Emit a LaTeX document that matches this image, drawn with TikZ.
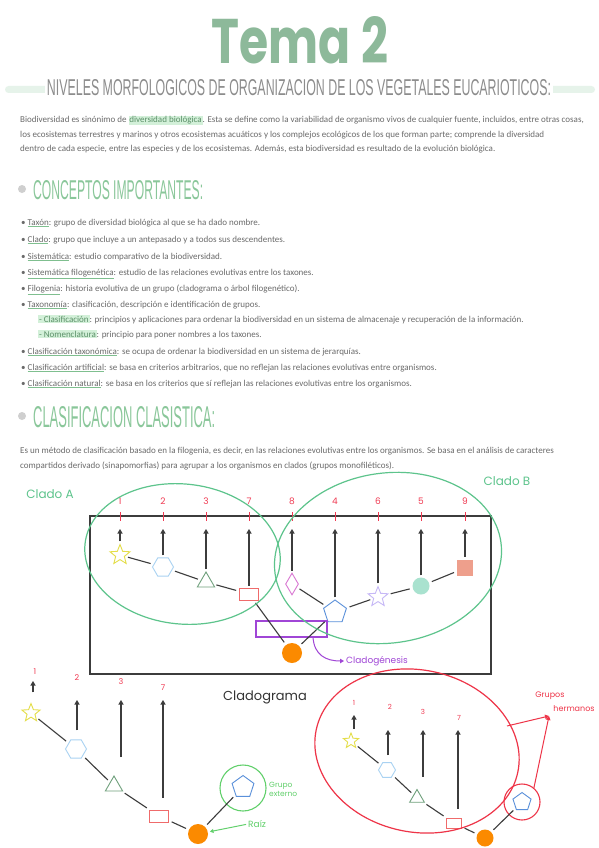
\documentclass[tikz,border=0pt]{standalone}
\usepackage{fontspec}
\setmainfont{Carlito}
\newfontfamily\headf{Liberation Sans}
\newfontfamily\titlef{Poppins}
\newfontfamily\handf{Poppins}
\usetikzlibrary{shapes.geometric,arrows.meta,calc}
\definecolor{sage}{HTML}{8DB99A}
\definecolor{headgreen}{HTML}{8AC79A}
\definecolor{hl}{HTML}{D3F0D9}
\definecolor{hltxt}{HTML}{5B9068}
\definecolor{barc}{HTML}{E6F3EA}
\definecolor{txt}{HTML}{6A6A6A}
\definecolor{subgray}{HTML}{8C8C8C}
\definecolor{bulgray}{HTML}{CFCFCF}
\definecolor{ulgreen}{HTML}{7FBF8F}
\definecolor{numred}{HTML}{F03A52}
\definecolor{ellgreen}{HTML}{5DC48C}
\definecolor{lineg}{HTML}{3C3C3C}
\definecolor{cstar}{HTML}{E4DE4A}
\definecolor{chex}{HTML}{A9D2F2}
\definecolor{ctri}{HTML}{6FA07C}
\definecolor{crect}{HTML}{EF6B6B}
\definecolor{cdia}{HTML}{D977D2}
\definecolor{cpent}{HTML}{5A90DA}
\definecolor{clav}{HTML}{C6B8F6}
\definecolor{cteal}{HTML}{A9E2CF}
\definecolor{csal}{HTML}{EE9F8C}
\definecolor{corange}{HTML}{FB8A00}
\definecolor{cpurple}{HTML}{A046D6}
\definecolor{redell}{HTML}{EE3448}
\definecolor{grext}{HTML}{62D06C}
\newcommand\hlt[1]{{\setlength{\fboxsep}{0.8pt}\colorbox{hl}{\color{hltxt}#1}}}
\newcommand\ult[1]{{\color{ulgreen}\underline{\color{txt}#1}}}
\tikzset{
 body/.style={anchor=base west, inner sep=0pt, text=txt, font=\fontsize{9}{11}\selectfont},
 head/.style={anchor=base west, inner sep=0pt, text=headgreen},
 hbul/.style={circle, fill=bulgray, minimum size=8pt, inner sep=0pt},
 conn/.style={draw=lineg, line width=1.1pt, shorten <=3pt, shorten >=3pt},
 arr/.style={draw=lineg, line width=1.1pt, -{Triangle[width=5pt,length=4.5pt]}},
 num/.style={text=numred, font=\handf\fontsize{9}{9}\selectfont, inner sep=0pt},
 snum/.style={text=numred, font=\handf\fontsize{7}{7}\selectfont, inner sep=0pt},
 tick/.style={draw=numred, line width=1pt},
 sh/.style={inner sep=0pt, line width=0.9pt},
 shstar/.style={sh, star, star points=5, star point ratio=2.3},
 shhex/.style={sh, regular polygon, regular polygon sides=6},
 shtri/.style={sh, regular polygon, regular polygon sides=3},
 shpent/.style={sh, regular polygon, regular polygon sides=5},
 shrect/.style={sh, rectangle},
 root/.style={circle, fill=corange, inner sep=0pt},
 hand/.style={font=\handf\fontsize{12}{12}\selectfont, inner sep=0pt}
}
\begin{document}
\begin{tikzpicture}[x=1pt,y=-1pt]
\useasboundingbox (0,0) rectangle (599,848);
\fill[white] (0,0) rectangle (599,848);
% title
\node[anchor=base, inner sep=0pt, text=sage] (title) at (300,64) {\resizebox{176pt}{47pt}{\titlef\bfseries Tema 2}};
\fill[barc, rounded corners=3.5pt] (5,86) rectangle (595,93);
\node[anchor=base, fill=white, inner xsep=2pt, inner ysep=0pt, text=subgray] (sub) at (299,96) {\resizebox{504pt}{16pt}{\headf NIVELES MORFOLOGICOS DE ORGANIZACION DE LOS VEGETALES EUCARIOTICOS:}};
% intro
\node[body] (p1) at (20,123) {Biodiversidad es sinónimo de \hlt{diversidad biológica}. Esta se define como la variabilidad de organismo vivos de cualquier fuente, incluidos, entre otras cosas,};
\node[body] (p2) at (20,137) {los ecosistemas terrestres y marinos y otros ecosistemas acuáticos y los complejos ecológicos de los que forman parte; comprende la diversidad};
\node[body] (p3) at (20,151) {dentro de cada especie, entre las especies y de los ecosistemas. Además, esta biodiversidad es resultado de la evolución biológica.};
% conceptos
\node[hbul] (b1) at (22,189) {};
\node[head] (h1) at (33,199) {\resizebox{170pt}{19pt}{\headf CONCEPTOS IMPORTANTES:}};
\node[body] (c1) at (21,225) {\textbullet\ \ult{Taxón}: grupo de diversidad biológica al que se ha dado nombre.};
\node[body] (c2) at (21,242) {\textbullet\ \ult{Clado}: grupo que incluye a un antepasado y a todos sus descendentes.};
\node[body] (c3) at (21,259) {\textbullet\ \ult{Sistemática}: estudio comparativo de la biodiversidad.};
\node[body] (c4) at (21,275) {\textbullet\ \ult{Sistemática filogenética}: estudio de las relaciones evolutivas entre los taxones.};
\node[body] (c5) at (21,291) {\textbullet\ \ult{Filogenia}: historia evolutiva de un grupo (cladograma o árbol filogenético).};
\node[body] (c6) at (21,307) {\textbullet\ \ult{Taxonomía}: clasificación, descripción e identificación de grupos.};
\node[body] (c6a) at (38,322) {\hlt{- Clasificación}: principios y aplicaciones para ordenar la biodiversidad en un sistema de almacenaje y recuperación de la información.};
\node[body] (c6b) at (38,337) {\hlt{- Nomenclatura}: principio para poner nombres a los taxones.};
\node[body] (c7) at (21,354) {\textbullet\ \ult{Clasificación taxonómica}: se ocupa de ordenar la biodiversidad en un sistema de jerarquías.};
\node[body] (c8) at (21,370) {\textbullet\ \ult{Clasificación artificial}: se basa en criterios arbitrarios, que no reflejan las relaciones evolutivas entre organismos.};
\node[body] (c9) at (21,386) {\textbullet\ \ult{Clasificación natural}: se basa en los criterios que sí reflejan las relaciones evolutivas entre los organismos.};
% clasificacion
\node[hbul] (b2) at (22,416) {};
\node[head] (h2) at (33,427) {\resizebox{182pt}{21pt}{\headf CLASIFICACION CLASISTICA:}};
\node[body] (q1) at (20,453) {Es un método de clasificación basado en la filogenia, es decir, en las relaciones evolutivas entre los organismos. Se basa en el análisis de caracteres};
\node[body] (q2) at (20,468) {compartidos derivado (sinapomorfias) para agrupar a los organismos en clados (grupos monofiléticos).};
% ---------- top cladogram ----------
\node[hand, text=ellgreen] (cA) at (50,494) {Clado A};
\node[hand, text=ellgreen] (cB) at (507,481) {Clado B};
\node[draw=lineg, line width=1.3pt, minimum width=401pt, minimum height=158pt, inner sep=0pt] (frame) at (290.5,595) {};
\foreach \x/\n in {120/1,163/2,206/3,249/7,292/8,335/4,378/6,421/5,465/9}{
  \node[num] (n\n) at (\x,501) {\n};
  \draw[tick] (\x,512) -- (\x,521);
}
\node[shstar, draw=cstar, minimum size=21pt] (a1) at (120,555) {};
\node[shhex, draw=chex, minimum size=21pt] (a2) at (163,567) {};
\node[shtri, draw=ctri, minimum size=20pt] (a3) at (206,582) {};
\node[shrect, draw=crect, minimum width=19pt, minimum height=12pt] (a7) at (249,594) {};
\node[sh, diamond, draw=cdia, minimum width=13pt, minimum height=22pt] (a8) at (292,584) {};
\node[shpent, draw=cpent, minimum size=24pt] (a4) at (335,612) {};
\node[shstar, draw=clav, minimum size=21pt] (a6) at (378,597) {};
\node[circle, fill=cteal, inner sep=0pt, minimum size=17pt] (a5) at (421,586) {};
\node[rectangle, fill=csal, inner sep=0pt, minimum size=16pt] (a9) at (465,568) {};
\node[root, minimum size=20pt] (ra) at (292,653) {};
\foreach \x/\n in {120/1,163/2,206/3,249/7,292/8,335/4,378/6,421/5,465/9}{
  \coordinate (ta\n) at (\x,529);
}
\foreach \n/\g in {1/2,2/2,3/2,7/2,8/2,4/2,6/2,5/2,9/3}{
  \draw[arr, shorten <=\g pt] (a\n.north -| ta\n) -- (ta\n);
}
\node[draw=cpurple, line width=1.2pt, minimum width=71pt, minimum height=16pt, inner sep=0pt] (cg) at (291.5,629) {};
\draw[conn] (a1) -- (a2);
\draw[conn] (a2) -- (a3);
\draw[conn] (a3) -- (a7);
\draw[conn] (a7) -- (ra);
\draw[conn] (a8) -- (a4);
\draw[conn] (a4) -- (a6);
\draw[conn] (a6) -- (a5);
\draw[conn] (a5) -- (a9);
\draw[conn] (a4) -- (ra);
\node[anchor=west, inner sep=0pt, text=cpurple, font=\handf\fontsize{9}{9}\selectfont] (cgl) at (346,661) {Cladogénesis};
\coordinate (cgs) at (313,637);
\draw[cpurple, line width=1pt, -{Triangle[width=4.5pt,length=4pt]}, shorten >=2pt] (cgs) .. controls (314,655) and (326,661) .. (cgl.west);
\draw[ellgreen, line width=1.2pt, rotate around={-6:(182.5,554)}] (182.5,554) ellipse [x radius=98, y radius=70];
\draw[ellgreen, line width=1.2pt, rotate around={8:(388,558)}] (388,558) ellipse [x radius=114, y radius=85];
\node[inner sep=0pt, text=black!80, font=\handf\fontsize{13}{13}\selectfont] (cgm) at (265,697) {Cladograma};
% ---------- bottom left tree ----------
\node[shstar, draw=cstar, minimum size=19pt] (b1) at (31,713) {};
\node[shhex, draw=chex, minimum size=21pt] (b2) at (76,749) {};
\node[shtri, draw=ctri, minimum size=20pt] (b3) at (114,786) {};
\node[shrect, draw=crect, minimum width=19pt, minimum height=12pt] (b7) at (159,816) {};
\node[root, minimum size=20pt] (rb) at (198,834) {};
\node[shpent, draw=cpent, minimum size=23pt] (bo) at (243,787) {};
\node[circle, draw=grext, line width=1.1pt, minimum size=46pt, inner sep=0pt] (gc) at (243,788) {};
\foreach \x/\y/\n in {35/672/1,77/678/2,121/682/3,163/688/7}{
  \node[num, font=\handf\fontsize{8}{8}\selectfont] (m\n) at (\x,\y) {\n};
}
\coordinate (tb1) at (33,681);
\coordinate (tb2) at (77,700);
\coordinate (tb3) at (121,700);
\coordinate (tb7) at (163,700);
\draw[arr, shorten <=10pt] (b1.north -| tb1) -- (tb1);
\draw[arr, shorten <=9pt] (b2.north -| tb2) -- (tb2);
\draw[arr, shorten <=18pt] (b3.north -| tb3) -- (tb3);
\draw[arr, shorten <=12pt] (b7.north -| tb7) -- (tb7);
\draw[conn] (b1) -- (b2);
\draw[conn] (b2) -- (b3);
\draw[conn] (b3) -- (b7);
\draw[conn] (b7) -- (rb);
\draw[conn] (rb) -- (bo);
\node[anchor=west, align=left, inner sep=0pt, text=grext, font=\handf\fontsize{7.5}{9}\selectfont] (ge) at (269,789) {Grupo\\externo};
\node[anchor=west, inner sep=0pt, text=grext, font=\handf\fontsize{9}{9}\selectfont] (raiz) at (248,824) {Raíz};
\draw[grext, line width=1pt, -{Triangle[width=4pt,length=3.5pt]}, shorten >=2pt, shorten <=2pt] (raiz.west) -- (rb);
% ---------- bottom right tree ----------
\node[shstar, draw=cstar, minimum size=16pt] (d1) at (351,741) {};
\node[shhex, draw=chex, minimum size=17pt] (d2) at (387,770) {};
\node[shtri, draw=ctri, minimum size=17pt] (d3) at (417,798) {};
\node[shrect, draw=crect, minimum width=15pt, minimum height=10pt] (d7) at (454,823) {};
\node[root, minimum size=17pt] (rd) at (485,838) {};
\node[shpent, draw=cpent, minimum size=19pt] (dp) at (522,802) {};
\node[circle, draw=redell, line width=1.1pt, minimum size=36pt, inner sep=0pt] (rcirc) at (522,802) {};
\foreach \x/\y/\n in {354/703/1,390/707/2,423/712/3,459/718/7}{
  \node[snum] (k\n) at (\x,\y) {\n};
}
\coordinate (td1) at (354,715);
\coordinate (td2) at (388,730);
\coordinate (td3) at (423,730);
\coordinate (td7) at (458,730);
\draw[arr, shorten <=3pt] (d1.north -| td1) -- (td1);
\draw[arr, shorten <=7pt] (d2.north -| td2) -- (td2);
\draw[arr, shorten <=12pt] (d3.north -| td3) -- (td3);
\draw[arr, shorten <=9pt] (d7.north -| td7) -- (td7);
\draw[conn] (d1) -- (d2);
\draw[conn] (d2) -- (d3);
\draw[conn] (d3) -- (d7);
\draw[conn] (d7) -- (rd);
\draw[conn] (rd) -- (dp);
\draw[redell, line width=1.2pt, rotate around={-12:(417,751)}] (417,751) ellipse [x radius=103, y radius=81];
\node[inner sep=0pt, text=redell, font=\handf\fontsize{8}{8}\selectfont] (gh1) at (550,696) {Grupos};
\node[inner sep=0pt, text=redell, font=\handf\fontsize{8}{8}\selectfont] (gh2) at (574,709) {hermanos};
\coordinate (ghtip) at (549,716);
\coordinate (gel) at (507,726);
\draw[redell, line width=1pt, -{Triangle[width=4.5pt,length=4pt]}] (gel) -- (ghtip);
\draw[redell, line width=1pt, -{Triangle[width=4.5pt,length=4pt]}] (rcirc.50) -- (ghtip);
\end{tikzpicture}
\end{document}
